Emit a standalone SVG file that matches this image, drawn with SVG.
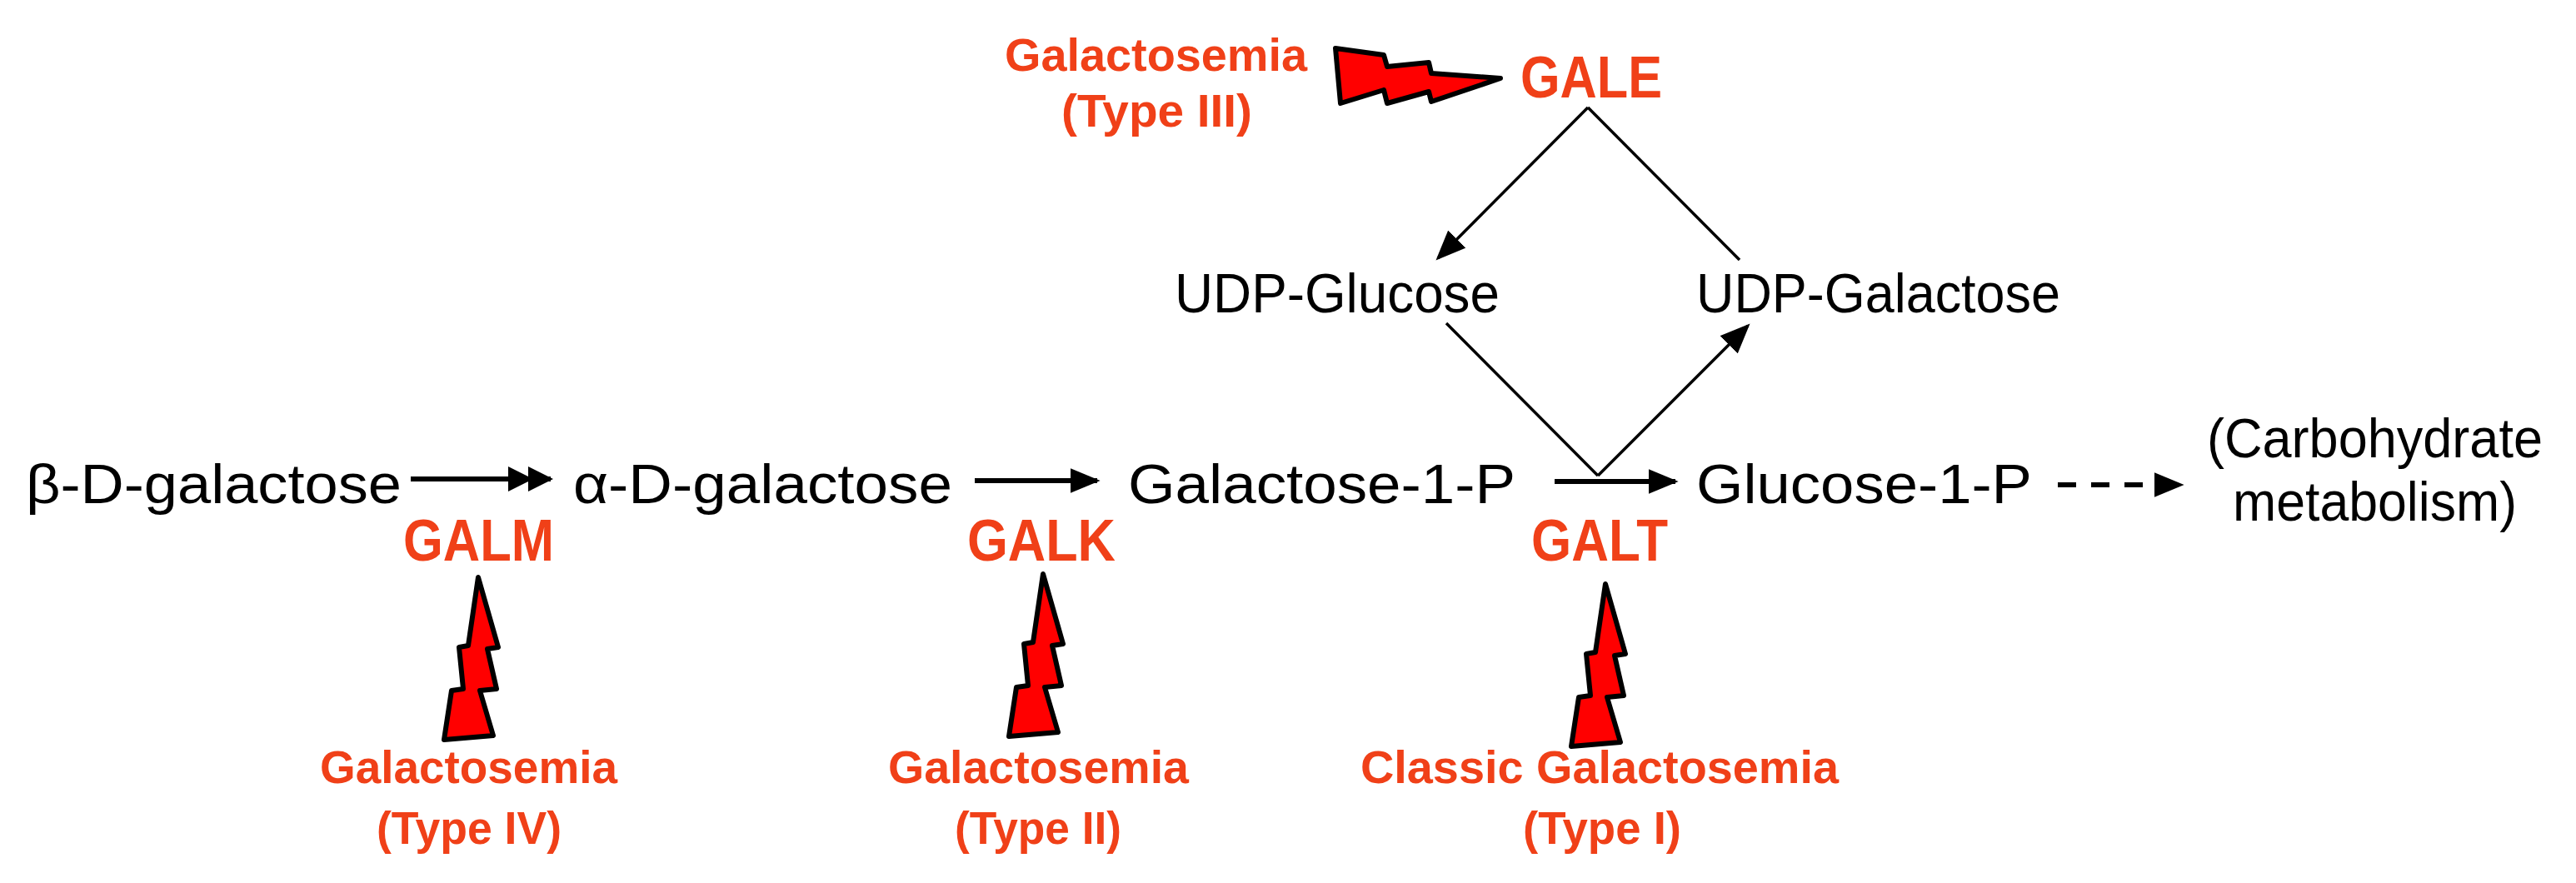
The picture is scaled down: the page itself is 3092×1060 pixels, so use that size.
<svg xmlns="http://www.w3.org/2000/svg" width="3092" height="1060" viewBox="0 0 3092 1060">
<style>
.t{font-family:"Liberation Sans",Arial,sans-serif;font-size:66px;fill:#000}
.r{font-family:"Liberation Sans",Arial,sans-serif;font-weight:bold;fill:#F04018}
.e{font-size:70px}
.d{font-size:56px}
.ln{stroke:#000;fill:none}
.bolt{fill:#FF0000;stroke:#000;stroke-width:6;stroke-linejoin:round}
</style>
<defs>
<marker id="ah" viewBox="0 0 10 10" refX="9" refY="5" markerWidth="36" markerHeight="30" markerUnits="userSpaceOnUse" orient="auto" preserveAspectRatio="none"><path d="M0,0L10,5L0,10z" fill="#000"/></marker>
<marker id="ah2" viewBox="0 0 18 10" refX="17" refY="5" markerWidth="54" markerHeight="30" markerUnits="userSpaceOnUse" orient="auto" preserveAspectRatio="none"><path d="M0,0L10,5L0,10zM8,0L18,5L8,10z" fill="#000"/></marker>
<path id="vb" d="M0,0L24,84L11,86L22,134L2,136L18,190L-41,195L-32,136L-18,134L-23,84L-12,82Z"/>
</defs>
<g id="connectors">
<line class="ln" x1="493" y1="575" x2="661" y2="575" stroke-width="6" marker-end="url(#ah2)"/>
<line class="ln" x1="1170" y1="577" x2="1317" y2="577" stroke-width="6" marker-end="url(#ah)"/>
<line class="ln" x1="1866" y1="578" x2="2011" y2="578" stroke-width="6" marker-end="url(#ah)"/>
<line class="ln" x1="2470" y1="582" x2="2618" y2="582" stroke-width="6" stroke-dasharray="22,18" marker-end="url(#ah)"/>
<line class="ln" x1="1906" y1="129" x2="1726" y2="310" stroke-width="3.5" marker-end="url(#ah)"/>
<line class="ln" x1="1906" y1="129" x2="2088" y2="312" stroke-width="3.5"/>
<polyline class="ln" points="1736,388 1918,571" stroke-width="3.5"/>
<line class="ln" x1="1918" y1="571" x2="2098" y2="391" stroke-width="3.5" marker-end="url(#ah)"/>
</g>
<g id="beta"><text class="t" x="31" y="604" textLength="451" lengthAdjust="spacingAndGlyphs">β-D-galactose</text></g>
<g id="alpha"><text class="t" x="688" y="604" textLength="455" lengthAdjust="spacingAndGlyphs">α-D-galactose</text></g>
<g id="gal1p"><text class="t" x="1354" y="604" textLength="465" lengthAdjust="spacingAndGlyphs">Galactose-1-P</text></g>
<g id="glc1p"><text class="t" x="2036" y="604" textLength="403" lengthAdjust="spacingAndGlyphs">Glucose-1-P</text></g>
<g id="carb"><text class="t" x="2649" y="549" textLength="403" lengthAdjust="spacingAndGlyphs">(Carbohydrate</text><text class="t" x="2680" y="625" textLength="341" lengthAdjust="spacingAndGlyphs">metabolism)</text></g>
<g id="udpglc"><text class="t" x="1410" y="375" textLength="390" lengthAdjust="spacingAndGlyphs">UDP-Glucose</text></g>
<g id="udpgal"><text class="t" x="2036" y="375" textLength="437" lengthAdjust="spacingAndGlyphs">UDP-Galactose</text></g>
<g id="galm"><text class="r e" x="484" y="673" textLength="181" lengthAdjust="spacingAndGlyphs">GALM</text>
<use href="#vb" class="bolt" x="574" y="693"/>
<text class="r d" x="384" y="940" textLength="357" lengthAdjust="spacingAndGlyphs">Galactosemia</text><text class="r d" x="452" y="1013" textLength="222" lengthAdjust="spacingAndGlyphs">(Type IV)</text></g>
<g id="galk"><text class="r e" x="1161" y="673" textLength="178" lengthAdjust="spacingAndGlyphs">GALK</text>
<use href="#vb" class="bolt" x="1252" y="689"/>
<text class="r d" x="1066" y="940" textLength="361" lengthAdjust="spacingAndGlyphs">Galactosemia</text><text class="r d" x="1146" y="1013" textLength="200" lengthAdjust="spacingAndGlyphs">(Type II)</text></g>
<g id="galt"><text class="r e" x="1838" y="673" textLength="164" lengthAdjust="spacingAndGlyphs">GALT</text>
<use href="#vb" class="bolt" x="1927" y="701"/>
<text class="r d" x="1633" y="940" textLength="574" lengthAdjust="spacingAndGlyphs">Classic Galactosemia</text><text class="r d" x="1828" y="1013" textLength="190" lengthAdjust="spacingAndGlyphs">(Type I)</text></g>
<g id="gale"><text class="r e" x="1825" y="117" textLength="170" lengthAdjust="spacingAndGlyphs">GALE</text>
<path class="bolt" d="M1603,58L1661,66L1665,80L1715,75L1718,88L1801,94L1718,122L1715,110L1665,124L1661,108L1609,124Z"/>
<text class="r d" x="1206" y="85" textLength="363" lengthAdjust="spacingAndGlyphs">Galactosemia</text><text class="r d" x="1274" y="152" textLength="229" lengthAdjust="spacingAndGlyphs">(Type III)</text></g>
</svg>
